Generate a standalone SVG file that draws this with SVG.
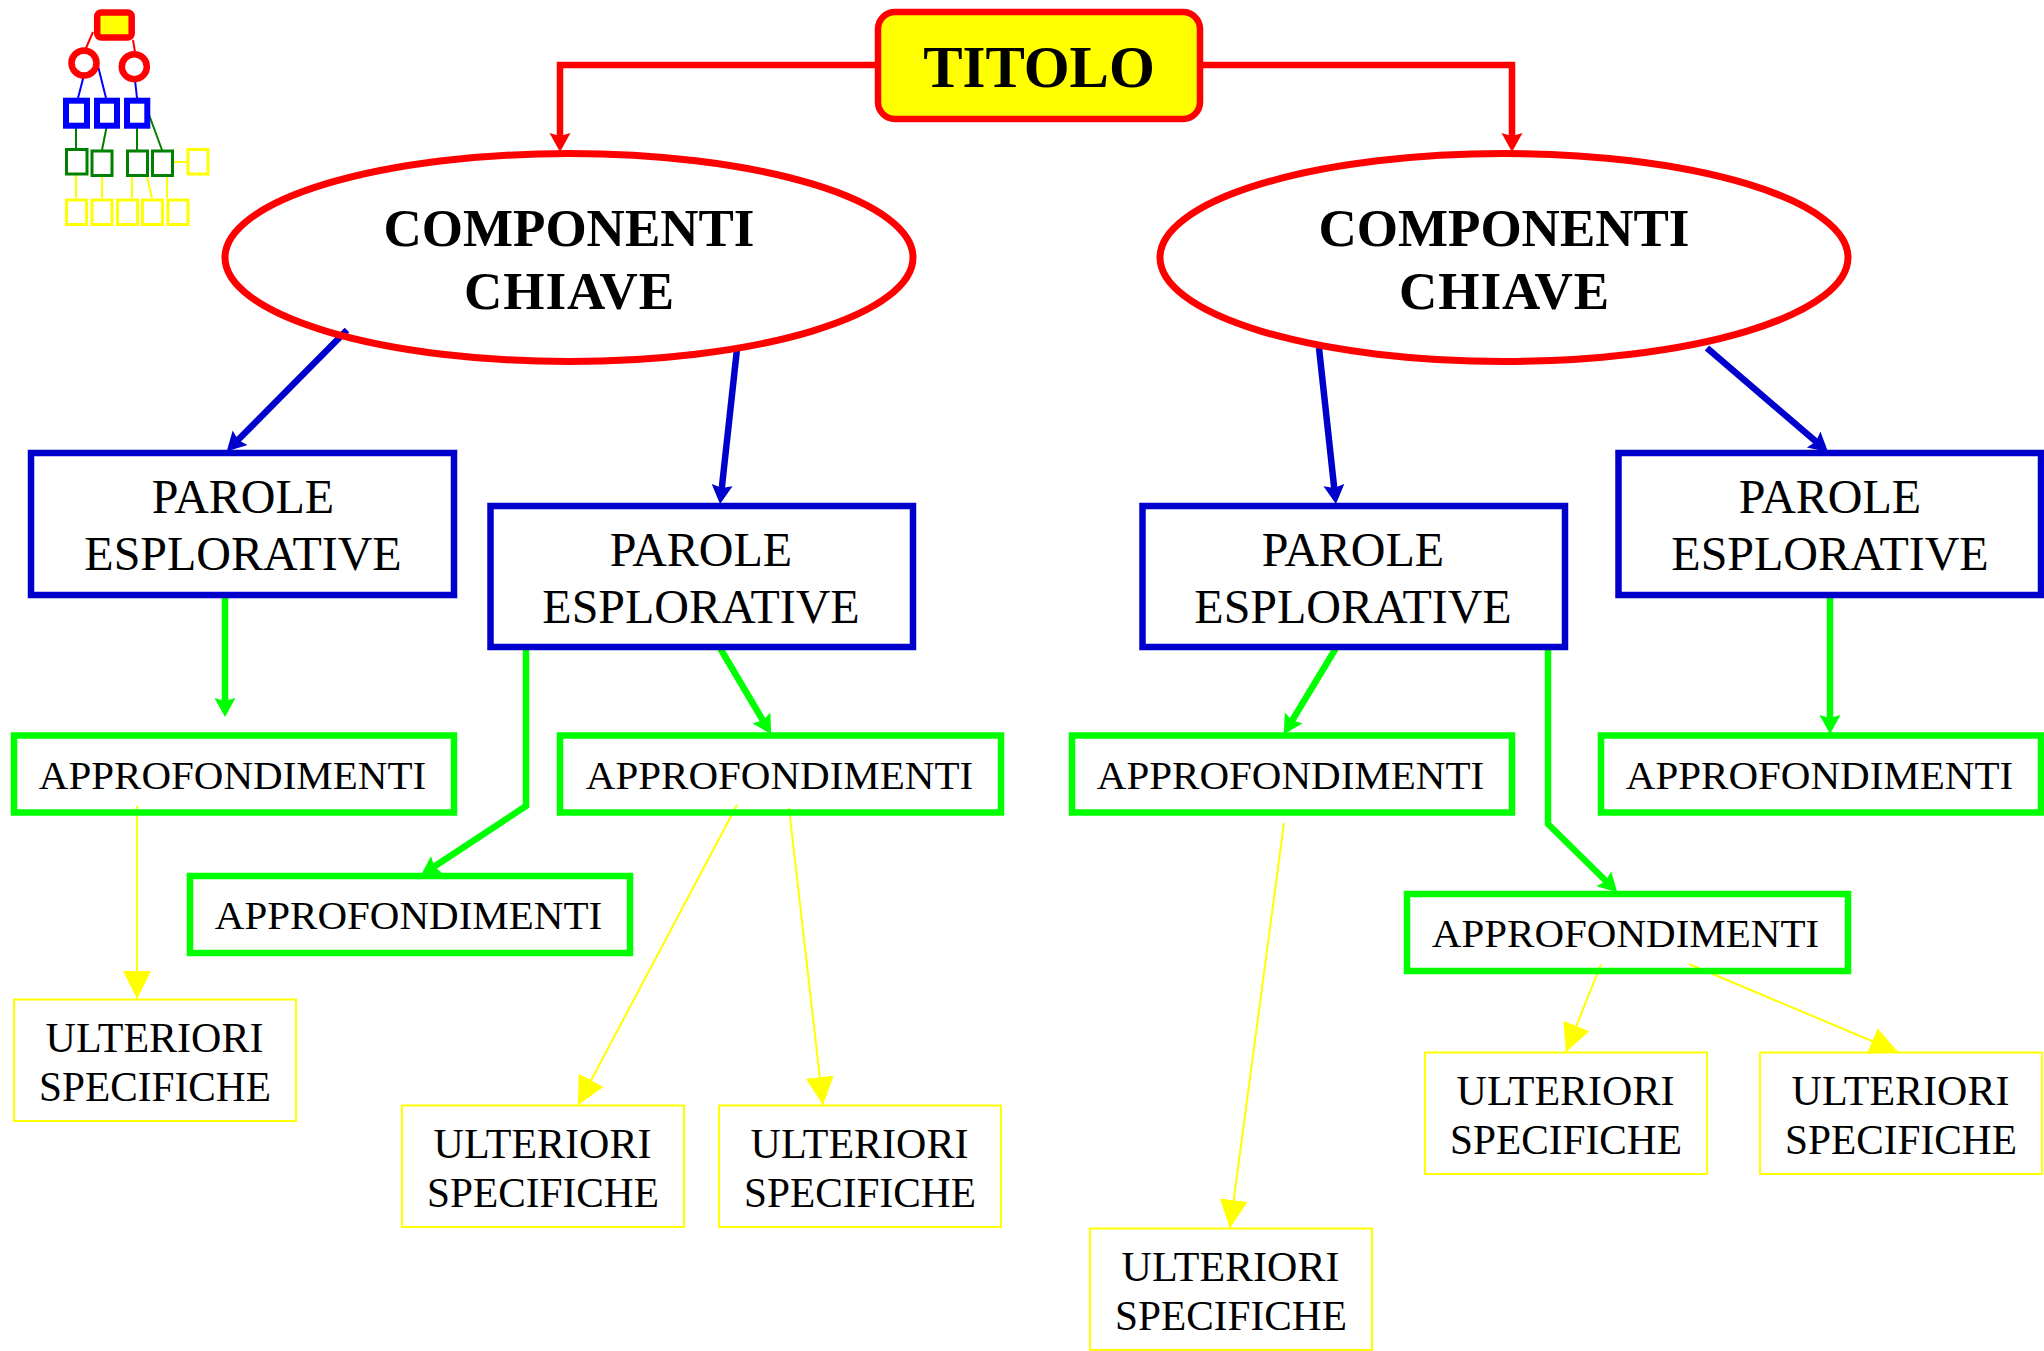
<svg xmlns="http://www.w3.org/2000/svg" width="2044" height="1351" viewBox="0 0 2044 1351">
<style>
text{font-family:"Liberation Serif","Times New Roman",serif;fill:#000;text-anchor:middle}
.h{font-size:53px;font-weight:bold}.t{font-size:59px;font-weight:bold}.p{font-size:48px}.a{font-size:41px}.u{font-size:42px}.s{font-size:41.3px}
.P{fill:none;stroke:#0000cc;stroke-width:6.5}.A{fill:none;stroke:#00ff00;stroke-width:6.5}.U{fill:none;stroke:#ffff00;stroke-width:2}.E{fill:none;stroke:#ff0000;stroke-width:7}
.cr,.cb,.cg,.cy{fill:none}.cr{stroke:#ff0000;stroke-width:6.5}.cb{stroke:#0000cc;stroke-width:6.5}.cg{stroke:#00ff00;stroke-width:6.5}.cy{stroke:#ffff00;stroke-width:2}
</style>
<defs>
<marker id="mr" markerUnits="userSpaceOnUse" markerWidth="22" markerHeight="22" refX="13" refY="10.5" orient="auto"><path d="M0 0L19 10.5L0 21L3 10.5Z" fill="#ff0000"/></marker>
<marker id="mb" markerUnits="userSpaceOnUse" markerWidth="22" markerHeight="22" refX="13" refY="10.5" orient="auto"><path d="M0 0L19 10.5L0 21L3 10.5Z" fill="#0000cc"/></marker>
<marker id="mg" markerUnits="userSpaceOnUse" markerWidth="22" markerHeight="22" refX="13" refY="10.5" orient="auto"><path d="M0 0L19 10.5L0 21L3 10.5Z" fill="#00ff00"/></marker>
<marker id="my" markerUnits="userSpaceOnUse" markerWidth="30" markerHeight="30" refX="28" refY="14" orient="auto"><path d="M0 0L28 14L0 28Z" fill="#ffff00"/></marker>
</defs>
<g id="connectors">
<path class="cr" marker-end="url(#mr)" d="M876 65H560V146"/>
<path class="cr" marker-end="url(#mr)" d="M1203 65H1512V146"/>
<path class="cb" marker-end="url(#mb)" d="M347 330L231 447"/>
<path class="cb" marker-end="url(#mb)" d="M737 349L720.7 498"/>
<path class="cb" marker-end="url(#mb)" d="M1319 348L1335.3 498"/>
<path class="cb" marker-end="url(#mb)" d="M1707 348L1823.5 448"/>
<path class="cg" marker-end="url(#mg)" d="M225 598V711"/>
<path class="cg" marker-end="url(#mg)" d="M526 648V806L426 872"/>
<path class="cg" marker-end="url(#mg)" d="M720 648L768 729"/>
<path class="cg" marker-end="url(#mg)" d="M1336 648L1287 729"/>
<path class="cg" marker-end="url(#mg)" d="M1548 648V824L1613 888"/>
<path class="cg" marker-end="url(#mg)" d="M1830 598V728"/>
<path class="cy" marker-end="url(#my)" d="M137 806V999"/>
<path class="cy" marker-end="url(#my)" d="M737 805L578 1105"/>
<path class="cy" marker-end="url(#my)" d="M789 808L823 1105"/>
<path class="cy" marker-end="url(#my)" d="M1284 823L1230 1228"/>
<path class="cy" marker-end="url(#my)" d="M1601 964L1566 1052"/>
<path class="cy" marker-end="url(#my)" d="M1689 964L1898 1052"/>
</g>
<g id="minimap">
<g fill="none" stroke-width="2"><path stroke="#ff0000" d="M93 32L86 48M133 40L135 52"/><path stroke="#0000ff" d="M84 75L78 98M97 62L106 98M135 80L137 98"/><path stroke="#008000" d="M76 125V148M107 125L102 150M137 127V150M148 112L162 150"/><path stroke="#ffff00" d="M76 175V198M102 177V198M132 177V198M147 177L152 198M167 177V198M174 162H187"/></g>
<rect x="97.2" y="12.5" width="34.5" height="25" rx="4" fill="#ffff00" stroke="#ff0000" stroke-width="6.5"/>
<circle cx="84" cy="63" r="12.5" fill="none" stroke="#ff0000" stroke-width="6.5"/><circle cx="134.3" cy="66.7" r="12.5" fill="none" stroke="#ff0000" stroke-width="6.5"/>
<g fill="none" stroke="#0000ff" stroke-width="6"><rect x="66" y="100.7" width="21" height="25"/><rect x="97" y="100.7" width="20" height="25"/><rect x="127" y="100.7" width="20.3" height="25"/></g>
<g fill="none" stroke="#008000" stroke-width="3"><rect x="66.5" y="149.5" width="20.5" height="24.5"/><rect x="92" y="151" width="20" height="24.5"/><rect x="127.5" y="151" width="20" height="24.5"/><rect x="152.5" y="151" width="20" height="24.5"/></g>
<g fill="none" stroke="#ffff00" stroke-width="3"><rect x="188" y="149.5" width="20" height="24.5"/><rect x="66.5" y="200" width="20" height="24.5"/><rect x="92" y="200" width="20" height="24.5"/><rect x="117.5" y="200" width="20" height="24.5"/><rect x="142.5" y="200" width="20" height="24.5"/><rect x="168" y="200" width="20" height="24.5"/></g>
</g>
<g id="titolo"><rect x="878" y="12" width="322" height="107" rx="17" fill="#ffff00" stroke="#ff0000" stroke-width="6.5"/><text class="t" x="1039" y="87">TITOLO</text></g>
<g id="chiave1"><ellipse class="E" cx="569" cy="257.5" rx="344" ry="104"/><text class="h" x="569" y="246">COMPONENTI</text><text class="h" x="569" y="309" textLength="210">CHIAVE</text></g>
<g id="chiave2"><ellipse class="E" cx="1504" cy="257.5" rx="344" ry="104"/><text class="h" x="1504" y="246">COMPONENTI</text><text class="h" x="1504" y="309" textLength="210">CHIAVE</text></g>
<g id="parole1"><rect class="P" x="31" y="453" width="423" height="142"/><text class="p" x="243" y="513">PAROLE</text><text class="p" x="243" y="570">ESPLORATIVE</text></g>
<g id="parole2"><rect class="P" x="490.5" y="506" width="422.5" height="141"/><text class="p" x="701" y="566">PAROLE</text><text class="p" x="701" y="623">ESPLORATIVE</text></g>
<g id="parole3"><rect class="P" x="1142.5" y="506" width="422.5" height="141"/><text class="p" x="1353" y="566">PAROLE</text><text class="p" x="1353" y="623">ESPLORATIVE</text></g>
<g id="parole4"><rect class="P" x="1618.5" y="453" width="422.5" height="142"/><text class="p" x="1830" y="513">PAROLE</text><text class="p" x="1830" y="570">ESPLORATIVE</text></g>
<g id="appro1"><rect class="A" x="14" y="735.5" width="440" height="77"/><text class="a" x="232.5" y="789">APPROFONDIMENTI</text></g>
<g id="appro2"><rect class="A" x="190" y="876" width="440" height="77"/><text class="a" x="408.5" y="929">APPROFONDIMENTI</text></g>
<g id="appro3"><rect class="A" x="560" y="735.5" width="441" height="77"/><text class="a" x="779.5" y="789">APPROFONDIMENTI</text></g>
<g id="appro4"><rect class="A" x="1072" y="735.5" width="440" height="77"/><text class="a" x="1290.5" y="789">APPROFONDIMENTI</text></g>
<g id="appro5"><rect class="A" x="1407" y="894" width="441" height="77"/><text class="a" x="1625.5" y="947">APPROFONDIMENTI</text></g>
<g id="appro6"><rect class="A" x="1601" y="735.5" width="440" height="77"/><text class="a" x="1819.5" y="789">APPROFONDIMENTI</text></g>
<g id="ulteriori1"><rect class="U" x="14" y="999.5" width="282" height="121.5"/><text class="u" x="154.5" y="1052">ULTERIORI</text><text class="s" x="155" y="1100.5">SPECIFICHE</text></g>
<g id="ulteriori2"><rect class="U" x="402" y="1105.5" width="282" height="121.5"/><text class="u" x="542.5" y="1158">ULTERIORI</text><text class="s" x="543" y="1206.5">SPECIFICHE</text></g>
<g id="ulteriori3"><rect class="U" x="719" y="1105.5" width="282" height="121.5"/><text class="u" x="859.5" y="1158">ULTERIORI</text><text class="s" x="860" y="1206.5">SPECIFICHE</text></g>
<g id="ulteriori4"><rect class="U" x="1090" y="1228.5" width="282" height="121.5"/><text class="u" x="1230.5" y="1281">ULTERIORI</text><text class="s" x="1231" y="1329.5">SPECIFICHE</text></g>
<g id="ulteriori5"><rect class="U" x="1425" y="1052.5" width="282" height="121.5"/><text class="u" x="1565.5" y="1105">ULTERIORI</text><text class="s" x="1566" y="1153.5">SPECIFICHE</text></g>
<g id="ulteriori6"><rect class="U" x="1760" y="1052.5" width="282" height="121.5"/><text class="u" x="1900.5" y="1105">ULTERIORI</text><text class="s" x="1901" y="1153.5">SPECIFICHE</text></g>
</svg>
